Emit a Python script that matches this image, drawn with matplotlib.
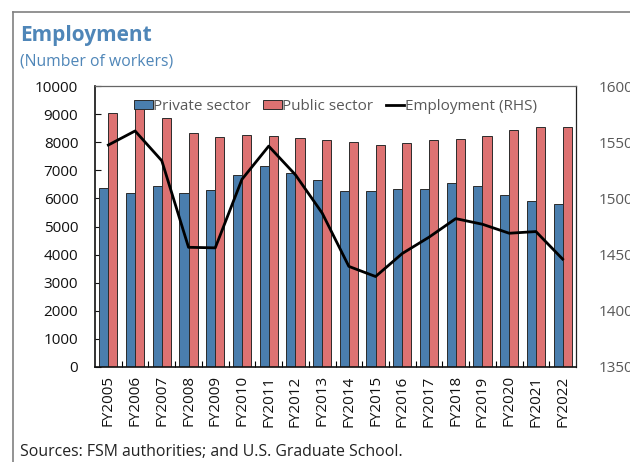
import matplotlib
matplotlib.use("Agg")
import matplotlib.pyplot as plt
from matplotlib.lines import Line2D
from matplotlib.patches import Patch
import numpy as np

plt.rcParams['font.family'] = ['Open Sans', 'DejaVu Sans']

years = ["FY2005", "FY2006", "FY2007", "FY2008", "FY2009", "FY2010", "FY2011",
         "FY2012", "FY2013", "FY2014", "FY2015", "FY2016", "FY2017", "FY2018",
         "FY2019", "FY2020", "FY2021", "FY2022"]
private_sector = [6370, 6200, 6430, 6180, 6310, 6830, 7150, 6890, 6645, 6270,
                  6250, 6320, 6345, 6535, 6425, 6105, 5895, 5785]
public_sector = [9055, 9200, 8850, 8345, 8190, 8270, 8235, 8165, 8095, 7990,
                 7895, 7975, 8070, 8105, 8225, 8450, 8535, 8535]
employment = [15475, 15600, 15335, 14565, 14560, 15170, 15465, 15210, 14870,
              14395, 14305, 14510, 14655, 14820, 14770, 14690, 14705, 14460]

BLUE = "#4A7EAE"
RED = "#DD7272"
TITLE_BLUE = "#4F86B8"
GRAY = "#595959"

fig = plt.figure(figsize=(6.3, 4.62), dpi=100)

# panel frame (top and left edges)
fig.add_artist(Line2D([13/630, 13/630], [0, 1 - 12/462], transform=fig.transFigure,
                      color="#808080", lw=1.2))
fig.add_artist(Line2D([13/630, 1], [1 - 12/462, 1 - 12/462], transform=fig.transFigure,
                      color="#808080", lw=1.2))

fig.text(20/630, 1 - 36/462, "Employment", color=TITLE_BLUE, fontsize=15,
         fontweight="bold", va="center", ha="left")
fig.text(20/630, 1 - 61/462, "(Number of workers)", color=TITLE_BLUE, fontsize=11.3,
         va="center", ha="left")
fig.text(20/630, 1 - 452/462, "Sources: FSM authorities; and U.S. Graduate School.",
         color="#222222", fontsize=11.4, va="center", ha="left")

ax = fig.add_axes([95/630, 1 - 367/462, 481/630, 281/462])
x = np.arange(len(years))
w = 0.34
ax.bar(x - w/2, private_sector, width=w, color=BLUE, edgecolor="#2b2b2b", lw=0.7, zorder=2)
ax.bar(x + w/2, public_sector, width=w, color=RED, edgecolor="#2b2b2b", lw=0.7, zorder=2)
ax.set_xlim(-0.5, len(years) - 0.5)
ax.set_ylim(0, 10000)
ax.set_yticks(np.arange(0, 10001, 1000))
ax.tick_params(axis="y", direction="in", length=4, labelsize=11, colors="#111111", pad=12)
ax.set_xticks(x)
ax.set_xticklabels(years, rotation=90, fontsize=11, color="#111111")
ax.tick_params(axis="x", length=0, pad=6)
ax.set_xticks(np.arange(0.5, len(years) - 1, 1), minor=True)
ax.tick_params(axis="x", which="minor", direction="in", length=4, width=0.8)
for s in ["left", "bottom"]:
    ax.spines[s].set_linewidth(1.2)
    ax.spines[s].set_color("#111111")
ax.spines["top"].set_color("#666666")
ax.spines["right"].set_color("#222222")
ax.spines["top"].set_linewidth(0.9)
ax.spines["right"].set_linewidth(0.9)

ax2 = ax.twinx()
ax2.plot(x, employment, color="black", lw=2, zorder=3)
ax2.set_ylim(13500, 16000)
ax2.set_yticks(np.arange(13500, 16001, 500))
ax2.tick_params(axis="y", length=0, labelsize=11, colors=GRAY, pad=16)
for s in ax2.spines.values():
    s.set_visible(False)

handles = [Patch(facecolor=BLUE, edgecolor="#2b2b2b", lw=0.7),
           Patch(facecolor=RED, edgecolor="#2b2b2b", lw=0.7),
           Line2D([0], [0], color="black", lw=2)]
leg = ax2.legend(handles, ["Private sector", "Public sector", "Employment (RHS)"],
                 loc="upper center", bbox_to_anchor=(0.5, 1.0), ncol=3, frameon=False,
                 fontsize=11, handlelength=1.2, handleheight=0.6, handletextpad=0.05,
                 columnspacing=0.8, borderaxespad=0.45, labelcolor=GRAY)

fig.savefig("out.png", dpi=100)
